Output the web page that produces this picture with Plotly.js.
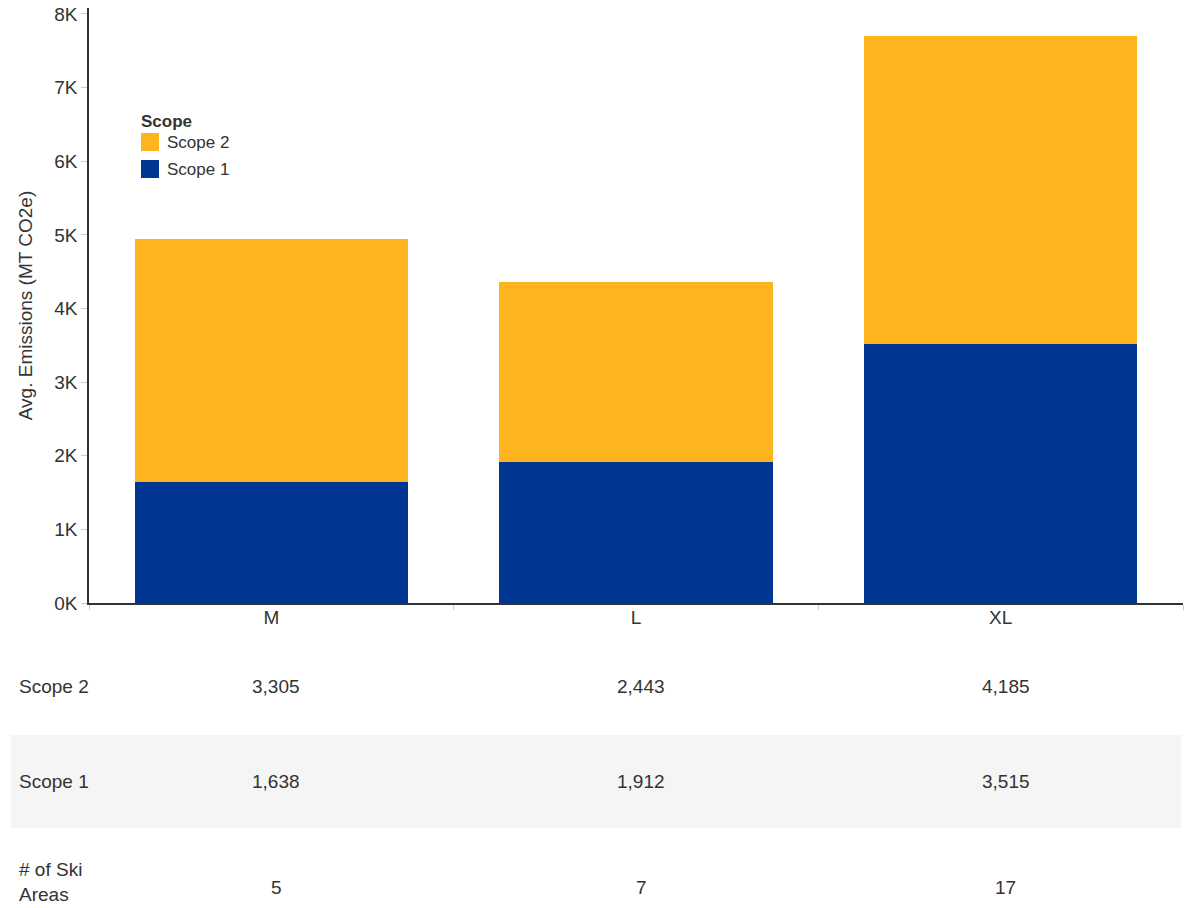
<!DOCTYPE html>
<html>
<head>
<meta charset="utf-8">
<script src="https://cdn.plot.ly/plotly-3.0.1.min.js"></script>
<style>html,body{margin:0;padding:0;background:#fff;}#chart{width:1184px;height:908px;}</style>
</head>
<body>
<div id="chart"></div>
<script>
const categories = ["M", "L", "XL"];
const scope1 = [1638, 1912, 3515];
const scope2 = [3305, 2443, 4185];
const skiAreas = [5, 7, 17];
const yTickVals = [0, 1000, 2000, 3000, 4000, 5000, 6000, 7000, 8000];
const yTickText = ["0K", "1K", "2K", "3K", "4K", "5K", "6K", "7K", "8K"];
const legendTitle = "Scope";
const seriesNames = ["Scope 1", "Scope 2"];
const seriesColors = ["#003591", "#FEB41F"];

const fmt = v => v.toLocaleString("en-US");
const FONT = "Liberation Sans, Arial, sans-serif";
const TXT = "#333";

const traces = [
  {type: "bar", name: seriesNames[0], x: categories, y: scope1, marker: {color: seriesColors[0]}, showlegend: false},
  {type: "bar", name: seriesNames[1], x: categories, y: scope2, marker: {color: seriesColors[1]}, showlegend: false}
];

// pixel -> paper helpers (plot area: x 89..1183, y 8..603)
const L = 89, R = 1183, T = 8, B = 603;
const px = p => (p - L) / (R - L);
const py = p => (B - p) / (B - T);

const rows = [
  {label: "Scope 2", vals: scope2.map(fmt), y: 686, ly: 686},
  {label: "Scope 1", vals: scope1.map(fmt), y: 781, ly: 781},
  {label: "# of Ski<br>Areas", vals: skiAreas.map(String), y: 887, ly: 882}
];

const annotations = [];
const shapes = [
  {type: "rect", xref: "paper", yref: "paper", x0: px(11), x1: px(1181), y0: py(828), y1: py(735),
    fillcolor: "#F5F5F5", line: {width: 0}, layer: "below"}
];

rows.forEach(r => {
  annotations.push({xref: "paper", yref: "paper", x: px(17), y: py(r.ly), xanchor: "left", yanchor: "middle", align: "left",
    text: r.label, showarrow: false, font: {family: FONT, size: 19, color: TXT}});
  categories.forEach((c, i) => {
    annotations.push({xref: "x", yref: "paper", x: c, xshift: 5, y: py(r.y), xanchor: "center", yanchor: "middle",
      text: r.vals[i], showarrow: false, font: {family: FONT, size: 19, color: TXT}});
  });
});

// custom legend (Scope 2 on top)
annotations.push({xref: "paper", yref: "paper", x: px(139), y: py(121), xanchor: "left", yanchor: "middle",
  text: "<b>" + legendTitle + "</b>", showarrow: false, font: {family: FONT, size: 17, color: TXT}});
[1, 0].forEach((si, k) => {
  const top = 133 + k * 27;
  shapes.push({type: "rect", xref: "paper", yref: "paper", x0: px(141), x1: px(159), y0: py(top + 18), y1: py(top),
    fillcolor: seriesColors[si], line: {width: 0}});
  annotations.push({xref: "paper", yref: "paper", x: px(165), y: py(top + 9.5), xanchor: "left", yanchor: "middle",
    text: seriesNames[si], showarrow: false, font: {family: FONT, size: 17, color: TXT}});
});

const layout = {
  width: 1184, height: 908,
  margin: {l: L, r: 1184 - R, t: T, b: 908 - B, pad: 0},
  paper_bgcolor: "#fff", plot_bgcolor: "#fff",
  barmode: "stack", bargap: 0.25,
  showlegend: false,
  font: {family: FONT, size: 19, color: TXT},
  xaxis: {
    type: "category", showgrid: false, showline: true, linecolor: "#333", linewidth: 1.5,
    ticks: "outside", tickson: "boundaries", ticklen: 5, tickcolor: "#ccc", ticklabelstandoff: -4,
    tickfont: {family: FONT, size: 19, color: TXT}, automargin: false, fixedrange: true
  },
  yaxis: {
    range: [0, 8081], tickvals: yTickVals, ticktext: yTickText,
    showgrid: false, zeroline: false, showline: true, linecolor: "#333", linewidth: 1.5,
    ticks: "outside", ticklen: 6, tickcolor: "#ccc",
    tickfont: {family: FONT, size: 19, color: TXT},
    title: {text: "Avg. Emissions (MT CO2e)", font: {family: FONT, size: 19, color: TXT}, standoff: 17},
    automargin: false, fixedrange: true
  },
  shapes: shapes,
  annotations: annotations
};

Plotly.newPlot("chart", traces, layout, {displayModeBar: false});
</script>
</body>
</html>
